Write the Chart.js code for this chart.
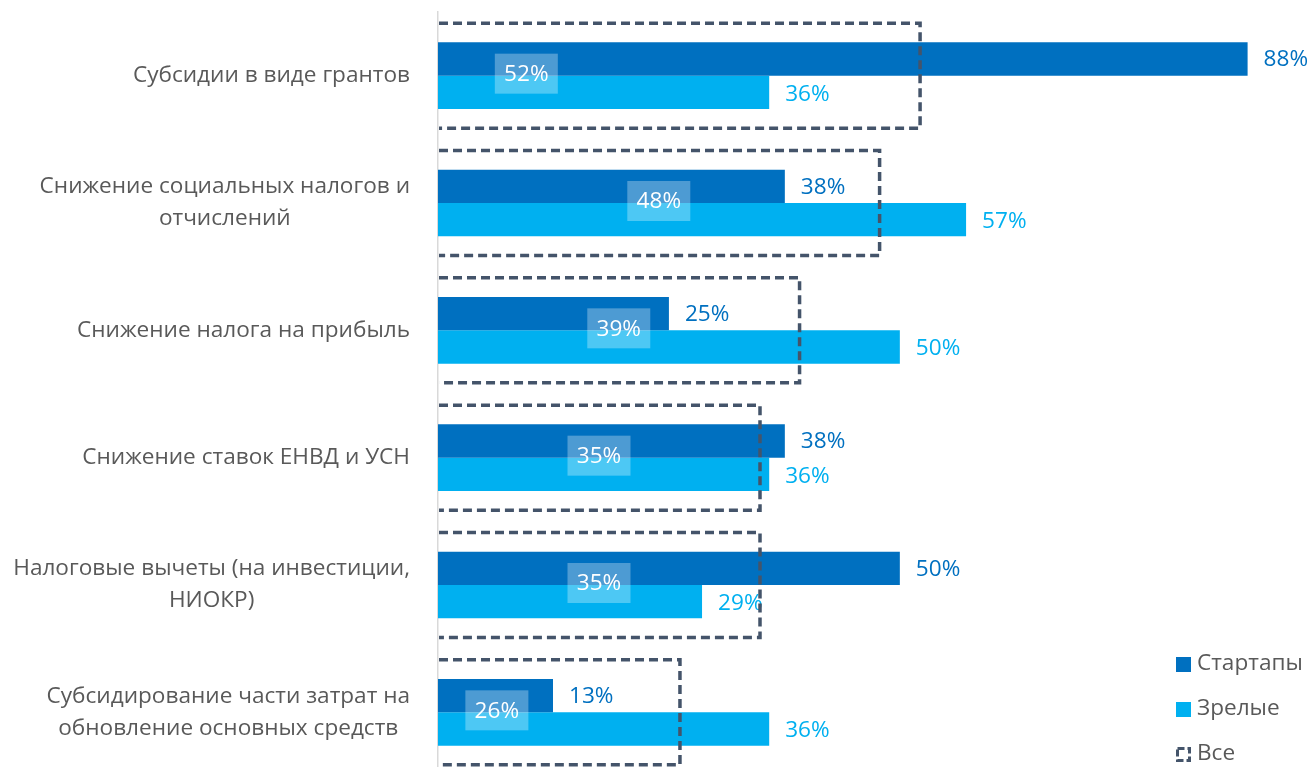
<!DOCTYPE html>
<html><head><meta charset="utf-8">
<script src="https://cdn.jsdelivr.net/npm/chart.js@4.4.1/dist/chart.umd.min.js"></script>
<style>
html,body{margin:0;padding:0;background:#fff;overflow:hidden;width:1312px;height:767px}
#wrap{position:absolute;left:0;top:0;width:1312px;height:790px}
</style></head>
<body><div id="wrap"><canvas id="c"></canvas></div>
<script>
const categories = [
  ['Субсидии в виде грантов'],
  ['Снижение социальных налогов и', 'отчислений'],
  ['Снижение налога на прибыль'],
  ['Снижение ставок ЕНВД и УСН'],
  ['Налоговые вычеты (на инвестиции,', 'НИОКР)'],
  ['Субсидирование части затрат на', 'обновление основных средств']
];
const seriesNames = ['Стартапы', 'Зрелые', 'Все'];
const startups = [88, 37.7, 25.1, 37.7, 50.2, 12.5];
const mature   = [36, 57.4, 50.2, 36, 28.7, 36];
const allFirms = [52.4, 48, 39.3, 35, 35, 26.3];

const FONT = '"Open Sans", sans-serif';
const FS = 22.6;
const TXT = '#595959';
const C_START = '#0070C0', C_MAT = '#00B0F0', C_ALL = '#44546A';

const fmt = v => Math.round(v) + '%';

const overlay = {
  id: 'overlay',
  afterDatasetsDraw(chart, args, opts) {
    const ctx = chart.ctx;
    const xs = chart.scales.x;
    const ys = chart.scales.y;
    // value labels for the two bar series
    [0, 1].forEach(di => {
      const ds = chart.data.datasets[di];
      chart.getDatasetMeta(di).data.forEach((bar, i) => {
        ctx.save();
        ctx.font = FS + 'px ' + FONT;
        ctx.fillStyle = ds.backgroundColor;
        ctx.textBaseline = 'middle';
        ctx.textAlign = 'left';
        ctx.fillText(fmt(ds.data[i]), bar.x + 16, bar.y + (di === 1 ? 2 : 1));
        ctx.restore();
      });
    });
    // dashed boxes for "Все", positioned through the chart scales
    const step = (ys.bottom - ys.top) / categories.length;
    const boxH = step * opts.boxFraction;
    const x0 = xs.getPixelForValue(0);
    allFirms.forEach((v, i) => {
      const yc = ys.getPixelForValue(i);
      const x1 = xs.getPixelForValue(v);
      const t = yc - boxH / 2, b = yc + boxH / 2;
      ctx.save();
      ctx.strokeStyle = C_ALL;
      ctx.lineWidth = 3.5;
      ctx.setLineDash([9, 5]);
      ctx.beginPath();
      ctx.moveTo(x0 + 1, t);
      ctx.lineTo(x1, t);
      ctx.lineTo(x1, b);
      ctx.lineTo(x0 + 1, b);
      ctx.stroke();
      ctx.restore();
      const at = opts.allLabelAt && opts.allLabelAt[i] != null ? opts.allLabelAt[i] : v / 2;
      const lx = xs.getPixelForValue(at);
      const ly = yc - 2;
      ctx.save();
      ctx.fillStyle = 'rgba(255,255,255,0.3)';
      ctx.fillRect(lx - 31.5, ly - 20, 63, 40);
      ctx.font = FS + 'px ' + FONT;
      ctx.fillStyle = '#FFFFFF';
      ctx.textAlign = 'center';
      ctx.textBaseline = 'middle';
      ctx.fillText(fmt(v), lx, ly + 1);
      ctx.restore();
    });
  },
  afterDraw(chart) {
    const ctx = chart.ctx;
    const ys = chart.scales.y;
    ctx.save();
    ctx.font = FS + 'px ' + FONT;
    ctx.fillStyle = TXT;
    ctx.textAlign = 'center';
    ctx.textBaseline = 'middle';
    categories.forEach((lines, i) => {
      const y = ys.getPixelForTick(i);
      const w = Math.max(...lines.map(l => ctx.measureText(l).width));
      const cx = chart.chartArea.left - 28 - w / 2;
      lines.forEach((l, k) => {
        ctx.fillText(l, cx, y + (k - (lines.length - 1) / 2) * 32);
      });
    });
    ctx.restore();
    // legend
    const rows = [664, 709, 754];
    ctx.save();
    ctx.font = FS + 'px ' + FONT;
    ctx.textBaseline = 'middle';
    ctx.textAlign = 'left';
    seriesNames.forEach((name, i) => {
      const y = rows[i];
      if (i < 2) {
        ctx.fillStyle = i === 0 ? C_START : C_MAT;
        ctx.fillRect(1176, y - 7, 15, 15);
      } else {
        ctx.strokeStyle = C_ALL;
        ctx.lineWidth = 3;
        ctx.setLineDash([7, 3]);
        ctx.strokeRect(1177.5, y - 5.5, 12, 12);
        ctx.setLineDash([]);
      }
      ctx.fillStyle = TXT;
      ctx.fillText(name, 1197, y);
    });
    ctx.restore();
  }
};

new Chart(document.getElementById('c'), {
  type: 'bar',
  data: {
    labels: categories,
    datasets: [
      { label: seriesNames[0], data: startups, backgroundColor: C_START, categoryPercentage: 0.523, barPercentage: 1 },
      { label: seriesNames[1], data: mature, backgroundColor: C_MAT, categoryPercentage: 0.523, barPercentage: 1 }
    ]
  },
  options: {
    indexAxis: 'y',
    responsive: true,
    maintainAspectRatio: false,
    animation: false,
    layout: { padding: { left: 438, top: 12, bottom: 14, right: 0 } },
    scales: {
      x: { min: 0, max: 95, display: false },
      y: {
        ticks: { display: false },
        grid: { display: true, drawOnChartArea: false, drawTicks: false, tickLength: 0 },
        border: { display: true, color: '#D9D9D9', width: 1.5 }
      }
    },
    plugins: {
      legend: { display: false },
      tooltip: { enabled: false },
      overlay: { boxFraction: 0.824, allLabelAt: [9.6, null, null, null, null, 6.4] }
    }
  },
  plugins: [overlay]
});
</script>
</body></html>
